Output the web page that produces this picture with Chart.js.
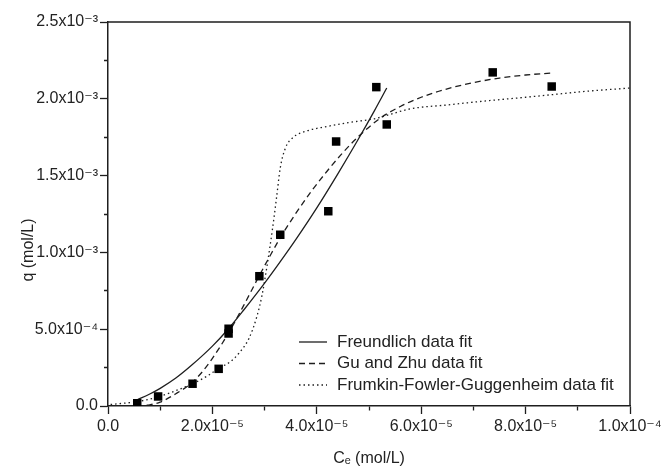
<!DOCTYPE html>
<html lang="en">
<head>
<meta charset="UTF-8">
<title>Isotherm data fits</title>
<script src="https://cdn.jsdelivr.net/npm/chart.js"></script>
<style>
  html, body { margin: 0; padding: 0; background: #fff; }
  canvas { display: block; }
</style>
</head>
<body>
<canvas id="chart" width="665" height="468"></canvas>
<script>
// experimental points: Ce (mol/L) and q (mol/L)
const expC = [5.6e-6, 9.6e-6, 16.2e-6, 21.2e-6, 23.1e-6, 23.1e-6, 29.0e-6, 33.0e-6, 42.2e-6, 43.7e-6, 51.4e-6, 53.4e-6, 73.7e-6, 85.0e-6];
const expQ = [0.018e-3, 0.062e-3, 0.145e-3, 0.242e-3, 0.503e-3, 0.472e-3, 0.845e-3, 1.115e-3, 1.268e-3, 1.722e-3, 2.076e-3, 1.833e-3, 2.172e-3, 2.080e-3];

// Freundlich fit (solid)
const freC = [5.6e-6, 8e-6, 10e-6, 13e-6, 16e-6, 20e-6, 23e-6, 26e-6, 30e-6, 33e-6, 36e-6, 40e-6, 44e-6, 48e-6, 51e-6, 53.4e-6];
const freQ = [0.04e-3, 0.078e-3, 0.115e-3, 0.182e-3, 0.265e-3, 0.39e-3, 0.50e-3, 0.625e-3, 0.80e-3, 0.94e-3, 1.085e-3, 1.29e-3, 1.51e-3, 1.74e-3, 1.92e-3, 2.07e-3];

// Gu and Zhu fit (dashed)
const guC = [5.5e-6, 8e-6, 10e-6, 13e-6, 16e-6, 18e-6, 20e-6, 23e-6, 26e-6, 29e-6, 31e-6, 33e-6, 36e-6, 39e-6, 42e-6, 45e-6, 48e-6, 52e-6, 56e-6, 60e-6, 65e-6, 70e-6, 75e-6, 80e-6, 85e-6];
const guQ = [0.0, 0.008e-3, 0.025e-3, 0.08e-3, 0.15e-3, 0.22e-3, 0.31e-3, 0.47e-3, 0.655e-3, 0.85e-3, 0.975e-3, 1.095e-3, 1.255e-3, 1.40e-3, 1.53e-3, 1.65e-3, 1.755e-3, 1.87e-3, 1.95e-3, 2.01e-3, 2.065e-3, 2.105e-3, 2.135e-3, 2.155e-3, 2.168e-3];

// Frumkin-Fowler-Guggenheim fit (dotted)
const ffgC = [0.5e-6, 3e-6, 5.5e-6, 9.5e-6, 13e-6, 16.2e-6, 19e-6, 21.2e-6, 23.5e-6, 25e-6, 27e-6, 28.5e-6, 29.5e-6, 30.5e-6, 31.5e-6, 32.3e-6, 33e-6, 34e-6, 35.5e-6, 38e-6, 42e-6, 46e-6, 51e-6, 58e-6, 65e-6, 72e-6, 80e-6, 86e-6, 92e-6, 100e-6];
const ffgQ = [0.01e-3, 0.018e-3, 0.028e-3, 0.058e-3, 0.10e-3, 0.145e-3, 0.195e-3, 0.245e-3, 0.29e-3, 0.34e-3, 0.44e-3, 0.58e-3, 0.72e-3, 0.92e-3, 1.15e-3, 1.36e-3, 1.55e-3, 1.68e-3, 1.75e-3, 1.79e-3, 1.82e-3, 1.845e-3, 1.87e-3, 1.935e-3, 1.96e-3, 1.985e-3, 2.01e-3, 2.03e-3, 2.05e-3, 2.07e-3];

const xTickLabels = ['0.0', '2.0x10⁻⁵', '4.0x10⁻⁵', '6.0x10⁻⁵', '8.0x10⁻⁵', '1.0x10⁻⁴'];
const yTickLabels = ['0.0', '5.0x10⁻⁴', '1.0x10⁻³', '1.5x10⁻³', '2.0x10⁻³', '2.5x10⁻³'];

const ink = '#1e1e1e';
const fontFamily = '"Liberation Sans", Arial, "DejaVu Sans", sans-serif';

const toXY = (xs, ys) => xs.map((x, i) => ({ x, y: ys[i] }));

function fitSet(label, xs, ys, dash) {
  return {
    label, data: toXY(xs, ys), showLine: true, pointRadius: 0,
    borderColor: ink, borderWidth: 1.3, borderDash: dash,
    cubicInterpolationMode: 'monotone', fill: false
  };
}

// frame on top/right, y title and the legend box inside the plot
const extras = {
  id: 'extras',
  afterDraw(chart) {
    const { ctx, chartArea: a } = chart;
    ctx.save();
    ctx.strokeStyle = ink;
    ctx.lineWidth = 1.5;
    ctx.beginPath();
    ctx.moveTo(a.left, a.top); ctx.lineTo(a.right, a.top); ctx.lineTo(a.right, a.bottom);
    ctx.stroke();

    ctx.fillStyle = '#222';
    ctx.font = '16px ' + fontFamily;
    ctx.translate(29, 250);
    ctx.rotate(-Math.PI / 2);
    ctx.textAlign = 'center';
    ctx.textBaseline = 'middle';
    ctx.fillText('q (mol/L)', 0, 0);
    ctx.restore();

    // legend
    ctx.save();
    ctx.font = '17px ' + fontFamily;
    ctx.textBaseline = 'middle';
    ctx.fillStyle = '#222';
    const rows = [342, 363.5, 385];
    chart.data.datasets.slice(1).forEach((ds, i) => {
      const y = rows[i];
      ctx.strokeStyle = ink;
      ctx.lineWidth = 1.3;
      ctx.setLineDash(ds.borderDash || []);
      ctx.beginPath();
      ctx.moveTo(299, y); ctx.lineTo(327, y);
      ctx.stroke();
      ctx.setLineDash([]);
      ctx.fillText(ds.label, 337, y);
    });
    ctx.restore();
  }
};

new Chart(document.getElementById('chart'), {
  type: 'scatter',
  data: {
    datasets: [
      { label: 'data', data: toXY(expC, expQ), pointStyle: 'rect', pointRadius: 6, pointHoverRadius: 6,
        backgroundColor: '#000', borderColor: '#000', borderWidth: 0 },
      fitSet('Freundlich data fit', freC, freQ, []),
      fitSet('Gu and Zhu data fit', guC, guQ, [6, 4]),
      fitSet('Frumkin-Fowler-Guggenheim data fit', ffgC, ffgQ, [1.5, 3])
    ]
  },
  options: {
    responsive: false,
    animation: false,
    layout: { padding: { top: 22, right: 35, left: 0, bottom: 0 } },
    plugins: { legend: { display: false }, tooltip: { enabled: false } },
    scales: {
      x: {
        type: 'linear', min: 0, max: 1e-4,
        afterFit: s => { s.height = 62; },
        border: { display: true, color: ink, width: 1.5 },
        grid: {
          drawOnChartArea: false, color: ink, tickLength: 8, tickWidth: 1.3,
          tickBorderDash: c => (c.index % 2 ? [4, 100] : [])
        },
        ticks: {
          stepSize: 1e-5, maxRotation: 0, autoSkip: false, padding: 3, color: '#222',
          font: { size: 16, family: fontFamily },
          callback: (v, i) => (i % 2 ? '' : xTickLabels[i / 2])
        },
        title: { display: true, text: 'Cₑ (mol/L)', color: '#222', font: { size: 16, family: fontFamily }, padding: { top: 4, bottom: 0 } }
      },
      y: {
        type: 'linear', min: 0, max: 2.5e-3,
        afterFit: s => { s.width = 108; },
        border: { display: true, color: ink, width: 1.5 },
        grid: {
          drawOnChartArea: false, color: ink, tickLength: 8, tickWidth: 1.3,
          tickBorderDash: c => (c.index % 2 ? [0, 4, 4, 100] : [])
        },
        ticks: {
          stepSize: 2.5e-4, autoSkip: false, padding: 2, color: '#222',
          font: { size: 16, family: fontFamily },
          callback: (v, i) => (i % 2 ? '' : yTickLabels[i / 2])
        }
      }
    }
  },
  plugins: [extras]
});
</script>
</body>
</html>
